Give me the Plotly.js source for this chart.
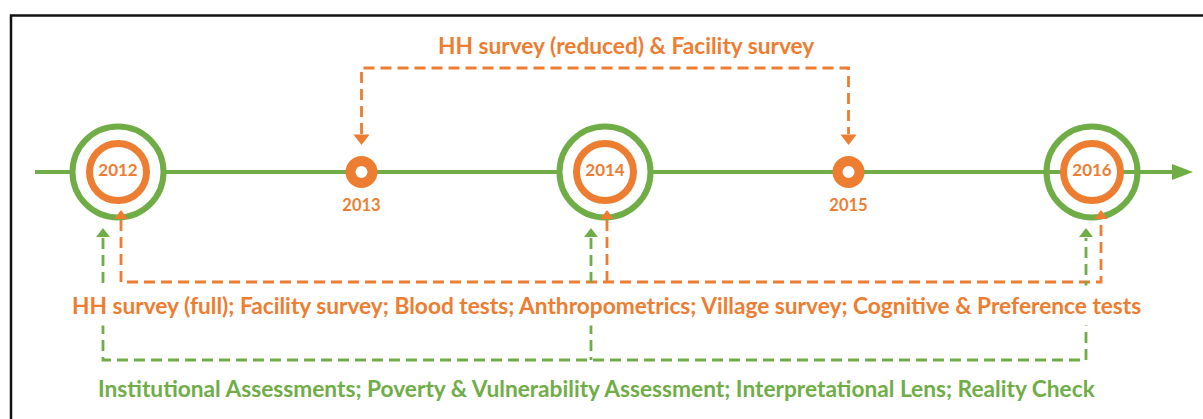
<!DOCTYPE html>
<html>
<head>
<meta charset="utf-8">
<script src="https://cdn.plot.ly/plotly-3.0.1.min.js"></script>
<style>html,body{margin:0;padding:0;background:#fff;}#chart{width:1203px;height:419px;}</style>
</head>
<body>
<div id="chart"></div>
<script>
// ---- data ----
const years = [2012, 2013, 2014, 2015, 2016];
const fullRounds = [2012, 2014, 2016];          // full surveys + lens studies
const reducedRounds = [2013, 2015];             // reduced surveys
const fullLabels = ['2012', '2014', '2016'];
const reducedLabels = ['2013', '2015'];
const topLabel = 'HH survey (reduced) &amp; Facility survey';
const orangeLabel = 'HH survey (full); Facility survey; Blood tests; Anthropometrics; Village survey; Cognitive &amp; Preference tests';
const greenLabel = 'Institutional Assessments; Poverty &amp; Vulnerability Assessment; Interpretational Lens; Reality Check';

// ---- style / layout ----
const W = 1203, H = 419;
const ORANGE = '#ED7D31', GREEN = '#70AD47';
const PX_FIRST = 118, PX_PER_YEAR = 243.5;
const xr = [years[0] - PX_FIRST / PX_PER_YEAR, years[0] + (W - PX_FIRST) / PX_PER_YEAR];
const dx = px => px / PX_PER_YEAR;            // pixel offset -> axis units
const px2x = px => xr[0] + px * (xr[1] - xr[0]) / W;
const greenOff = [-15, -14, -6];              // arrow offsets (px) per full round
const orangeOff = [3, 2, 9];
const ringFill = ['#ffffff', '#ffffff', 'rgba(255,255,255,0)'];
const Y_LINE = 172, Y_TOP = 68, Y_ORANGE = 282, Y_GREEN = 360;
const FONT = 'Lato, "Open Sans", sans-serif';
const DASH = '11px,6px';
const LBL = 22.7;

const gx = fullRounds.map((y, i) => y + dx(greenOff[i]));
const ox = fullRounds.map((y, i) => y + dx(orangeOff[i]));
const last = fullRounds.length - 1;

const traces = [];
// top bracket (reduced rounds)
traces.push({x: [reducedRounds[0], reducedRounds[0], reducedRounds[1], reducedRounds[1]],
  y: [134, Y_TOP, Y_TOP, 134], mode: 'lines', line: {color: ORANGE, width: 2.8, dash: DASH}});
// orange bottom bracket
traces.push({x: [ox[0], ox[0], ox[last], ox[last]], y: [220, Y_ORANGE, Y_ORANGE, 220],
  mode: 'lines', line: {color: ORANGE, width: 2.8, dash: DASH}});
for (let i = 1; i < last; i++) traces.push({x: [ox[i], ox[i]], y: [220, Y_ORANGE], mode: 'lines', line: {color: ORANGE, width: 2.8, dash: DASH}});
// green bottom bracket
traces.push({x: [gx[0], gx[0], gx[last], gx[last]], y: [238, Y_GREEN, Y_GREEN, 238],
  mode: 'lines', line: {color: GREEN, width: 2.8, dash: DASH}});
for (let i = 1; i < last; i++) traces.push({x: [gx[i], gx[i]], y: [238, Y_GREEN], mode: 'lines', line: {color: GREEN, width: 2.8, dash: DASH}});
// green outer rings
traces.push({x: fullRounds, y: fullRounds.map(() => Y_LINE), mode: 'markers',
  marker: {symbol: 'circle', size: 91, color: ringFill, line: {color: GREEN, width: 6}}});
// orange inner rings with year
traces.push({x: fullRounds, y: fullRounds.map(() => Y_LINE), mode: 'markers+text', text: fullLabels,
  textposition: 'middle center', textfont: {family: FONT, size: 17, color: ORANGE, weight: 'bold'},
  marker: {symbol: 'circle', size: 57, color: '#ffffff', line: {color: ORANGE, width: 7}}});
// reduced-round small circles
traces.push({x: reducedRounds, y: reducedRounds.map(() => Y_LINE), mode: 'markers',
  marker: {symbol: 'circle', size: 22, color: '#ffffff', line: {color: ORANGE, width: 10}}});
traces.push({x: reducedRounds, y: reducedRounds.map(() => 207), mode: 'text', text: reducedLabels,
  textposition: 'middle center', textfont: {family: FONT, size: 16.5, color: ORANGE, weight: 'bold'}});
// arrowheads
traces.push({x: reducedRounds, y: reducedRounds.map(() => 138), mode: 'markers',
  marker: {symbol: 'triangle-down', size: 14, color: ORANGE}});
traces.push({x: gx, y: gx.map(() => 234), mode: 'markers', marker: {symbol: 'triangle-up', size: 12, color: GREEN}});
traces.push({x: ox, y: ox.map(() => 216), mode: 'markers', marker: {symbol: 'triangle-up', size: 12, color: ORANGE}});
traces.forEach(t => { t.hoverinfo = 'skip'; t.showlegend = false; t.cliponaxis = false; });

const yp = v => 1 - v / H;
const layout = {
  width: W, height: H, margin: {l: 0, r: 0, t: 0, b: 0},
  paper_bgcolor: '#fff', plot_bgcolor: '#fff', showlegend: false,
  xaxis: {range: xr, visible: false, fixedrange: true},
  yaxis: {range: [H, 0], visible: false, fixedrange: true},
  shapes: [
    {type: 'line', layer: 'below', xref: 'x', yref: 'y', x0: px2x(35), x1: px2x(1176), y0: Y_LINE, y1: Y_LINE,
     line: {color: GREEN, width: 4}},
    {type: 'path', layer: 'below', xref: 'x', yref: 'y', fillcolor: GREEN, line: {width: 0},
     path: `M ${px2x(1172)} ${Y_LINE - 8} L ${px2x(1193)} ${Y_LINE} L ${px2x(1172)} ${Y_LINE + 8} Z`},
    {type: 'path', xref: 'paper', yref: 'paper', line: {color: '#111', width: 2.5},
     path: `M ${11 / W} 0 L ${11 / W} ${yp(15.5)} L 1 ${yp(15.5)}`}
  ],
  annotations: [
    {text: topLabel, xref: 'paper', yref: 'y', x: 626 / W, y: 45, showarrow: false,
     font: {family: FONT, size: LBL, color: ORANGE, weight: 'bold'}},
    {text: orangeLabel, xref: 'paper', yref: 'y', x: 606 / W, y: 305, showarrow: false,
     bgcolor: '#ffffff', borderpad: 6,
     font: {family: FONT, size: LBL, color: ORANGE, weight: 'bold'}},
    {text: greenLabel, xref: 'paper', yref: 'y', x: 597 / W, y: 388, showarrow: false,
     font: {family: FONT, size: LBL, color: GREEN, weight: 'bold'}}
  ]
};
Plotly.newPlot('chart', traces, layout, {displayModeBar: false, staticPlot: true});
</script>
</body>
</html>
